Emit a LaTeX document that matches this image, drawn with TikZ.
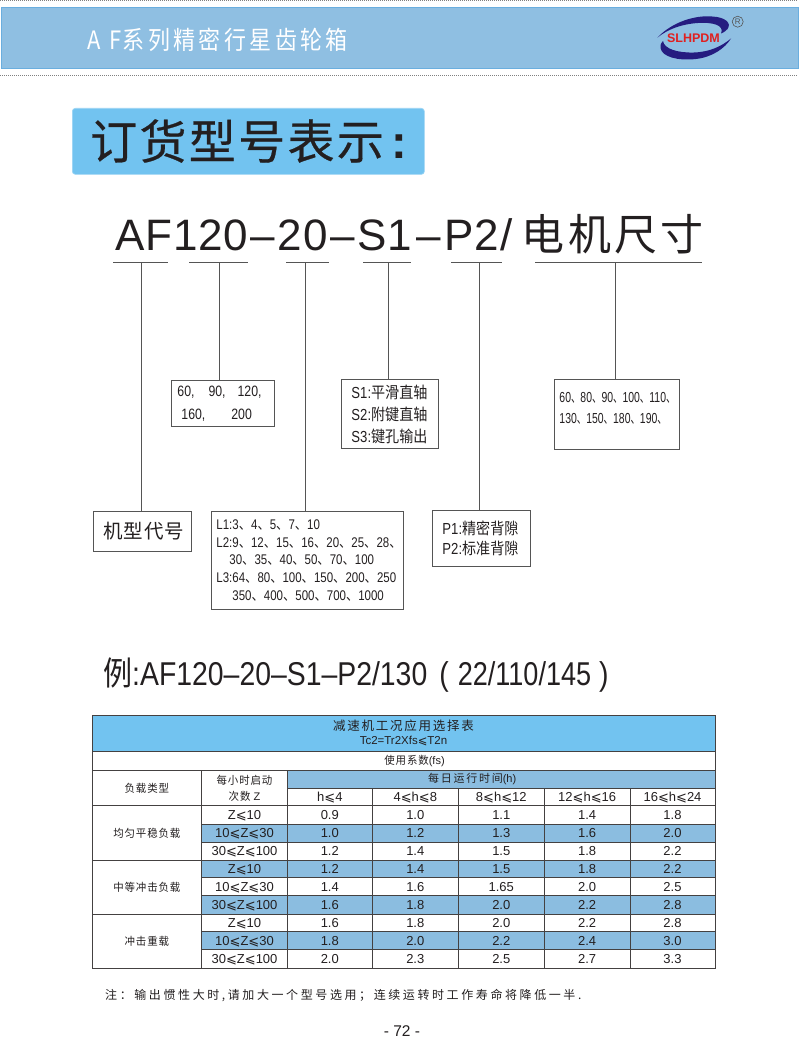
\documentclass[tikz,border=0pt]{standalone}
\usepackage{fontspec}
\setmainfont{Liberation Sans}
\newfontfamily\cjk{Noto Sans CJK SC}
\newfontfamily\cjkn[FakeStretch=0.88]{Noto Sans CJK SC}
\newfontfamily\cjks[FakeStretch=0.65]{Noto Sans CJK SC}
\newfontfamily\lat[FakeStretch=0.82]{Liberation Sans}
\newfontfamily\latn[FakeStretch=0.72]{Liberation Sans}
\newfontfamily\latb[FakeStretch=0.86]{Liberation Sans}
\newfontfamily\mathfnt{DejaVu Sans}
\newfontfamily\bgl[LetterSpace=2]{Liberation Sans}
\newfontfamily\bgc[LetterSpace=8]{Noto Sans CJK SC}
\newfontfamily\ttlf[LetterSpace=5,FakeBold=0.5]{Noto Sans CJK SC}
\newfontfamily\widef[LetterSpace=15.5]{Noto Sans CJK SC}
\newfontfamily\hdl[LetterSpace=8,FakeStretch=0.95]{Noto Sans CJK SC}
\newfontfamily\hdlb[LetterSpace=14]{Noto Sans CJK SC}
\newfontfamily\hdlc[LetterSpace=16]{Noto Sans CJK SC}
\newfontfamily\fnt[LetterSpace=21.6]{Noto Sans CJK SC}
\newcommand{\sz}[2]{\fontsize{#1}{#2}\selectfont}
\newcommand{\Cn}[1]{{\cjkn #1}}
\newcommand{\Cs}[1]{{\cjks #1}}
\newcommand{\LE}{{\mathfnt ⩽}}
\newcommand{\ZA}{Z\LE 10}
\newcommand{\ZB}{10\LE Z\LE 30}
\newcommand{\ZC}{30\LE Z\LE 100}
\definecolor{band}{HTML}{8FBFE2}
\definecolor{bandline}{HTML}{6AAEDF}
\definecolor{tblue}{HTML}{8BBDE0}
\definecolor{head}{HTML}{72C3F0}
\definecolor{ink}{HTML}{231F20}
\definecolor{navy}{HTML}{251C80}
\definecolor{logored}{HTML}{E02020}
\definecolor{boxline}{HTML}{555555}
\tikzset{
  boxnode/.style={draw=boxline,line width=.9pt,anchor=north west,inner ysep=0pt,inner xsep=5pt,align=left,text=ink},
  wire/.style={draw=boxline,line width=.9pt},
  ul/.style={draw=boxline,line width=.8pt},
  tc/.style={draw=ink!85,line width=.8pt,inner sep=0pt,text=ink,align=center,font={\sz{11}{13}}},
  dc/.style={text height=9.5pt,text depth=0pt},
  dotline/.style={draw=gray,line width=1pt,dash pattern=on 1pt off 1pt},
}
\newcount\tcn
\newcommand{\tcell}[7][]{%
  \pgfmathsetmacro\cw{#4-#2}\pgfmathsetmacro\ch{#5-#3}%
  \global\advance\tcn by 1
  \node[tc,#1,fill=#6,minimum width=\cw pt,minimum height=\ch pt,name=t\the\tcn] at ({(#2+#4)/2},{(#3+#5)/2}) {#7};}
\begin{document}
\begin{tikzpicture}[x=1pt,y=-1pt]
\useasboundingbox (0,0) rectangle (798,1038);
\fill[white] (0,0) rectangle (798,1038);
% header band
\coordinate (da) at (0,1); \coordinate (db) at (798,1);
\draw[dotline] (da) -- (db);
\coordinate (dc) at (0,75.5); \coordinate (dd) at (798,75.5);
\draw[dotline] (dc) -- (dd);
\node[draw=bandline,fill=band,line width=1pt,minimum width=797pt,minimum height=61pt,inner sep=0pt,anchor=north west] (bandbox) at (1,7.5) {};
\node[anchor=west,text=white,inner sep=0pt,yscale=1.15] (bandtext) at (87,40) {\sz{22}{24}{\widef A\hspace{9pt}F\hspace{1pt}系列精密行星齿轮箱}};
% logo
\fill[navy] (657.3,37.7) .. controls (672,22) and (695,15) .. (712,16.5) .. controls (725,17) and (732,23) .. (727.5,29) .. controls (725,32) and (722,33) .. (721,33.5) .. controls (725,25) and (712,22) .. (698,23) .. controls (682,24) and (668,29) .. (657.3,37.7) -- cycle;
\fill[navy] (731,38.5) .. controls (725,48) and (713,57) .. (696,59) .. controls (678,61) and (662,57) .. (660.5,48) .. controls (660,44) and (662,42) .. (663,41) .. controls (664,49) and (678,53) .. (694,52.5) .. controls (710,52) and (722,46) .. (731,38.5) -- cycle;
\node[text=logored,inner sep=0pt,font=\bfseries] (logotext) at (693.5,38) {\sz{12.5}{13}SLHPDM};
\node[draw=boxline,circle,line width=.6pt,minimum size=11pt,inner sep=0pt,text=boxline] (reg) at (737.7,21.7) {\sz{8}{9}R};
% title box
\node[fill=head,draw=head!70!white,line width=.7pt,rounded corners=3pt,minimum width=352pt,minimum height=66pt,inner sep=0pt,anchor=north west] (titlebox) at (72,108) {};
\node[anchor=west,inner sep=0pt,text=ink] (titletext) at (90,141) {\sz{47}{50}{\ttlf 订货型号表示}\hspace{8pt}{\bfseries :}};
% model line
\node[anchor=base west,inner sep=0pt,text=ink] (model) at (115,250) {\sz{44}{48}{\bgl AF120\hspace{2.5pt}–\hspace{2.5pt}20\hspace{2.5pt}–\hspace{2.5pt}S1\hspace{5pt}–\hspace{3.5pt}P2/}\hspace{9pt}{\bgc\sz{43}{48}电机尺寸}};
% underline coordinates
\foreach \n/\xa/\xb/\xm in {a/113/168/141,b/189/248/219,c/286/329/305,d/363/411/388,e/451/502/479,f/535/702/615}{
  \coordinate (\n l) at (\xa,262); \coordinate (\n r) at (\xb,262); \coordinate (\n m) at (\xm,262);
  \draw[ul] (\n l) -- (\n r);
}
% boxes
\node[boxnode,minimum height=46pt,text width=93pt,font={\lat\sz{15}{23}}] (bb) at (171,380) {\hspace*{1pt}60,\hspace{14pt}90,\hspace{12pt}120,\\\hspace*{5pt}160,\hspace{26pt}200};
\node[boxnode,minimum height=69pt,text width=87pt,font={\lat\sz{16}{22}}] (bd) at (341,379) {\hspace*{5pt}S1:\Cn{平滑直轴}\\\hspace*{5pt}S2:\Cn{附键直轴}\\\hspace*{5pt}S3:\Cn{键孔输出}};
\node[boxnode,minimum height=70pt,text width=115pt,font={\latn\sz{14.5}{21}}] (bf) at (554,379) {60\Cs{、}80\Cs{、}90\Cs{、}100\Cs{、}110\Cs{、}\\130\Cs{、}150\Cs{、}180\Cs{、}190\Cs{、}\\[-8pt]\mbox{}};
\node[boxnode,minimum height=40pt,text width=88pt,font={\cjk\sz{19.5}{22}\addfontfeature{LetterSpace=5}}] (ba) at (93,511) {\hspace*{5pt}机型代号};
\node[boxnode,minimum height=98pt,text width=182pt,font={\lat\sz{14}{17.6}}] (bc) at (211,511) {L1:3\Cn{、}4\Cn{、}5\Cn{、}7\Cn{、}10\\L2:9\Cn{、}12\Cn{、}15\Cn{、}16\Cn{、}20\Cn{、}25\Cn{、}28\Cn{、}\\\hspace*{13pt}30\Cn{、}35\Cn{、}40\Cn{、}50\Cn{、}70\Cn{、}100\\L3:64\Cn{、}80\Cn{、}100\Cn{、}150\Cn{、}200\Cn{、}250\\\hspace*{16pt}350\Cn{、}400\Cn{、}500\Cn{、}700\Cn{、}1000};
\node[boxnode,minimum height=56pt,text width=88pt,font={\lat\sz{16}{20.5}}] (be) at (432,510) {\hspace*{5pt}P1:\Cn{精密背隙}\\\hspace*{5pt}P2:\Cn{标准背隙}};
% connectors
\draw[wire] (am) -- (am |- ba.north);
\draw[wire] (bm) -- (bm |- bb.north);
\draw[wire] (cm) -- (cm |- bc.north);
\draw[wire] (dm) -- (dm |- bd.north);
\draw[wire] (em) -- (em |- be.north);
\draw[wire] (fm) -- (fm |- bf.north);
% example
\node[anchor=west,inner sep=0pt,text=ink] (example) at (103,675) {\latb\sz{33}{36}\Cn{例}:AF120–20–S1–P2/130\hspace{12pt}(\hspace{9pt}{\lat 22/110/145}\hspace{8pt})};
% table
\tcell{92}{715}{715}{751}{head}{{\hdlb\sz{12.5}{14}减速机工况应用选择表}\\[1pt]{\sz{11.5}{12}Tc2=Tr2Xfs\LE T2n}}
\tcell{92}{751}{715}{770}{white}{\hspace*{22pt}{\hdl 使用系数}(fs)}
\tcell{92}{770}{201.7}{805.7}{white}{{\hdl 负载类型}}
\tcell{201.7}{770}{287.3}{805.7}{white}{{\hdl 每小时启动}\\[3pt]{\hdl 次数} Z}
\tcell{287.3}{770}{715}{788}{tblue}{{\hdlc 每日运行时间}(h)\hspace*{58pt}}
\foreach \xa/\xb/\hd in {287.3/372.3/{h\LE 4},372.3/458.3/{4\LE h\LE 8},458.3/544.3/{8\LE h\LE 12},544.3/630/{12\LE h\LE 16},630/715/{16\LE h\LE 24}}{
  \tcell[dc]{\xa}{788}{\xb}{805.7}{white}{\sz{13}{14}\hd}
}
\tcell{92}{805.7}{201.7}{860}{white}{{\hdl 均匀平稳负载}}
\tcell{92}{860}{201.7}{914}{white}{{\hdl 中等冲击负载}}
\tcell{92}{914}{201.7}{968}{white}{{\hdl 冲击重载}}
\foreach \ya/\yb/\cf/\zz/\va/\vb/\vc/\vd/\ve in {
 805.7/824/white/\ZA/0.9/1.0/1.1/1.4/1.8,
 824/842/tblue/\ZB/1.0/1.2/1.3/1.6/2.0,
 842/860/white/\ZC/1.2/1.4/1.5/1.8/2.2,
 860/877.7/tblue/\ZA/1.2/1.4/1.5/1.8/2.2,
 877.7/895.7/white/\ZB/1.4/1.6/1.65/2.0/2.5,
 895.7/914/tblue/\ZC/1.6/1.8/2.0/2.2/2.8,
 914/931.7/white/\ZA/1.6/1.8/2.0/2.2/2.8,
 931.7/949.7/tblue/\ZB/1.8/2.0/2.2/2.4/3.0,
 949.7/968/white/\ZC/2.0/2.3/2.5/2.7/3.3}{
  \tcell[dc]{201.7}{\ya}{287.3}{\yb}{\cf}{\sz{13}{14}\zz}
  \tcell[dc]{287.3}{\ya}{372.3}{\yb}{\cf}{\sz{13}{14}\va}
  \tcell[dc]{372.3}{\ya}{458.3}{\yb}{\cf}{\sz{13}{14}\vb}
  \tcell[dc]{458.3}{\ya}{544.3}{\yb}{\cf}{\sz{13}{14}\vc}
  \tcell[dc]{544.3}{\ya}{630}{\yb}{\cf}{\sz{13}{14}\vd}
  \tcell[dc]{630}{\ya}{715}{\yb}{\cf}{\sz{13}{14}\ve}
}
% footer
\node[anchor=west,inner sep=0pt,text=ink] (note) at (105,996) {\fnt\sz{12}{14}注：输出惯性大时,请加大一个型号选用；连续运转时工作寿命将降低一半.};
\node[inner sep=0pt,text=ink] (page) at (402,1031) {\sz{15.5}{16}- 72 -};
\end{tikzpicture}
\end{document}
